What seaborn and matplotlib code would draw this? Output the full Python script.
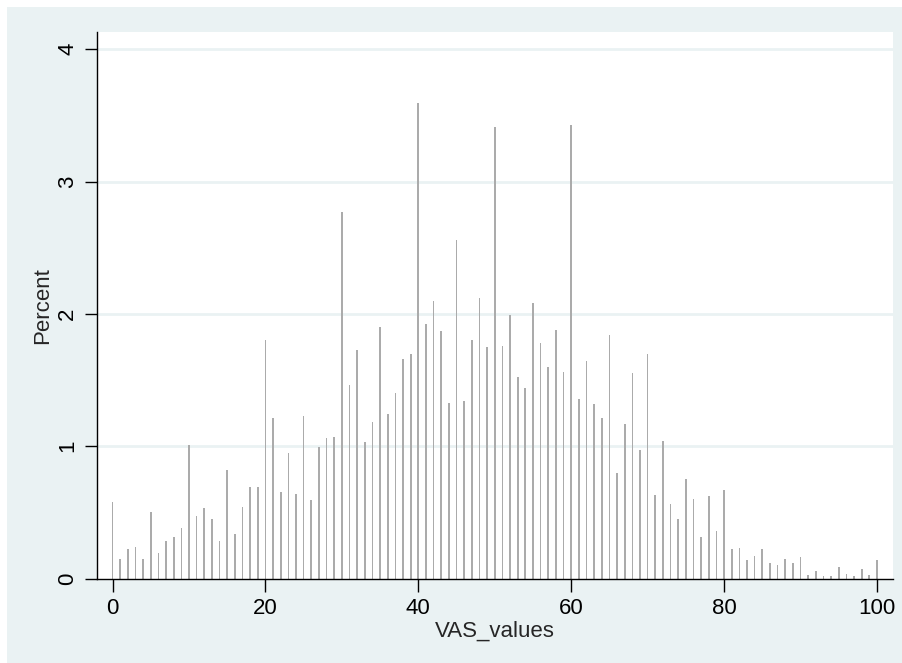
import matplotlib
matplotlib.use("Agg")
import matplotlib.pyplot as plt
import seaborn as sns
import pandas as pd
from matplotlib.patches import Rectangle

# VAS score 0..100 and share of responses (percent)
vas = list(range(0, 101))
percent = [
    0.58, 0.15, 0.22, 0.24, 0.15, 0.50, 0.19, 0.28, 0.31, 0.38,
    1.01, 0.47, 0.53, 0.45, 0.28, 0.82, 0.34, 0.54, 0.69, 0.69,
    1.80, 1.21, 0.65, 0.95, 0.64, 1.23, 0.59, 0.99, 1.06, 1.07,
    2.77, 1.46, 1.73, 1.03, 1.18, 1.90, 1.24, 1.40, 1.66, 1.70,
    3.59, 1.92, 2.10, 1.87, 1.33, 2.56, 1.34, 1.80, 2.12, 1.75,
    3.41, 1.76, 1.99, 1.52, 1.44, 2.08, 1.78, 1.60, 1.88, 1.56,
    3.43, 1.36, 1.64, 1.32, 1.21, 1.84, 0.80, 1.17, 1.55, 0.97,
    1.70, 0.63, 1.04, 0.56, 0.45, 0.75, 0.60, 0.31, 0.62, 0.36,
    0.67, 0.22, 0.23, 0.14, 0.17, 0.22, 0.12, 0.10, 0.15, 0.12,
    0.16, 0.03, 0.055, 0.02, 0.017, 0.085, 0.035, 0.02, 0.075, 0.03,
    0.14,
]
xticks = [0, 20, 40, 60, 80, 100]
yticks = [0, 1, 2, 3, 4]

df = pd.DataFrame({"VAS_values": vas, "Percent": percent})

bg = "#EAF2F3"
sns.set_style("white")
plt.rcParams["font.family"] = ["Liberation Sans", "DejaVu Sans"]

fig = plt.figure(figsize=(9.03, 6.63), dpi=100, facecolor=bg)
# thin white margin on top and left, as in the source image
fig.patches.append(Rectangle((0, 1 - 7 / 663), 1, 7 / 663, transform=fig.transFigure,
                             facecolor="white", edgecolor="none", zorder=-1))
fig.patches.append(Rectangle((0, 0), 7 / 903, 1, transform=fig.transFigure,
                             facecolor="white", edgecolor="none", zorder=-1))

ax = fig.add_axes([97.5 / 903, 1 - 578.5 / 663, (893 - 97.5) / 903, (578.5 - 32) / 663])
ax.set_facecolor("white")

sns.barplot(data=df, x="VAS_values", y="Percent", native_scale=True, width=0.22,
            color="#ABABAB", saturation=1, linewidth=0, ax=ax, zorder=3)

ax.set_xlim(-1.97, 102.1)
ax.set_ylim(0, 4.13)
ax.set_xticks(xticks)
ax.set_yticks(yticks)
ax.set_yticklabels([str(t) for t in yticks], rotation=90, va="center")

for t in yticks[1:]:
    ax.axhline(t, color=bg, linewidth=2, zorder=1)

for side in ["top", "right"]:
    ax.spines[side].set_visible(False)
for side in ["left", "bottom"]:
    ax.spines[side].set_color("black")
    ax.spines[side].set_linewidth(1)
    ax.spines[side].set_zorder(4)

ax.tick_params(axis="both", direction="out", length=9, width=1, color="black",
               labelsize=16, labelcolor="black", pad=5, left=True, bottom=True)
ax.set_xlabel("VAS_values", fontsize=16, labelpad=1)
ax.set_ylabel("Percent", fontsize=16, labelpad=3)

fig.savefig("out.png", dpi=100, facecolor=bg)
